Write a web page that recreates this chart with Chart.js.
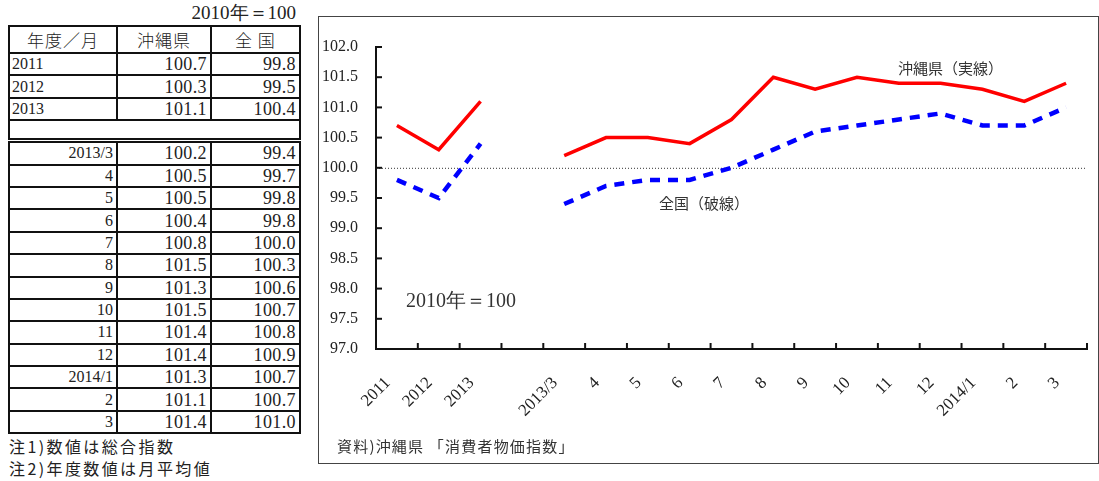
<!DOCTYPE html>
<html>
<head>
<meta charset="utf-8">
<script src="https://cdn.jsdelivr.net/npm/chart.js@4/dist/chart.umd.min.js"></script>
<style>
  body { margin: 0; background: #fff; width: 1099px; height: 481px; position: relative; overflow: hidden; }
  .serif { font-family: "Liberation Serif", "DejaVu Serif", serif; }
  .jp { font-family: "Noto Sans CJK JP", sans-serif; }
  #base { position: absolute; right: 803px; top: 0px; font-size: 19px; color: #222; }
  table { position: absolute; left: 8px; top: 25px; width: 293px; border-collapse: collapse; border: 2px solid #111; }
  td { border: 2px solid #111; padding: 0 3px; height: 20.4px; line-height: 20px; font-family: "Liberation Serif", serif; font-size: 18px; letter-spacing: 0.4px; color: #222; text-align: right; }
  td.l { text-align: left; font-size: 16px; padding-left: 2px; letter-spacing: 0; }
  td.m { font-size: 16px; letter-spacing: 0; }
  tr.hd td { height: 25px; text-align: center; font-family: "Noto Sans CJK JP", sans-serif; font-size: 17px; font-weight: 300; letter-spacing: 1px; }
  tr.gap td { height: 17px; border-bottom: 5px double #111; }
  #notes { position: absolute; left: 9px; top: 435px; font-size: 16px; letter-spacing: 2.4px; line-height: 22px; color: #222; }
  #box { position: absolute; left: 318px; top: 16px; width: 779px; height: 446px; border: 1px solid #444; }
  #box canvas { position: absolute; left: 0; top: 0; }
  .note { position: absolute; color: #333; white-space: nowrap; }
</style>
</head>
<body>
<div id="base" class="serif">2010年＝100</div>
<table id="tbl"></table>
<div id="notes" class="jp">注1)数値は総合指数<br>注2)年度数値は月平均値</div>
<div id="box">
  <canvas id="chart" width="779" height="446"></canvas>
  <div class="note jp" style="left:579px; top:40px; font-size:15px;">沖縄県（実線）</div>
  <div class="note jp" style="left:340px; top:175px; font-size:15px;">全国（破線）</div>
  <div class="note serif" style="left:87px; top:270px; font-size:20px;">2010年＝100</div>
  <div class="note jp" style="left:18px; top:418px; font-size:15px; letter-spacing:1.2px;">資料)沖縄県 「消費者物価指数」</div>
</div>
<script>
// 年度と月の区分（空欄は年度と月の間のすき間）
const categories = ['2011', '2012', '2013', '', '2013/3', '4', '5', '6', '7', '8', '9', '10', '11', '12', '2014/1', '2', '3'];
const okinawa = [100.7, 100.3, 101.1, null, 100.2, 100.5, 100.5, 100.4, 100.8, 101.5, 101.3, 101.5, 101.4, 101.4, 101.3, 101.1, 101.4];
const zenkoku = [99.8, 99.5, 100.4, null, 99.4, 99.7, 99.8, 99.8, 100.0, 100.3, 100.6, 100.7, 100.8, 100.9, 100.7, 100.7, 101.0];
const yTicks = [97.0, 97.5, 98.0, 98.5, 99.0, 99.5, 100.0, 100.5, 101.0, 101.5, 102.0];

// 表を作る
const tbl = document.getElementById('tbl');
let html = '<tr class="hd"><td style="width:100px">年度／月</td><td style="width:86px">沖縄県</td><td>全 国</td></tr>';
categories.forEach((c, i) => {
    if (c === '') {
        html += '<tr class="gap"><td colspan="3"></td></tr>';
        return;
    }
    const cls = i < 3 ? 'l' : 'm';
    html += `<tr><td class="${cls}">${c}</td><td>${okinawa[i].toFixed(1)}</td><td>${zenkoku[i].toFixed(1)}</td></tr>`;
});
tbl.innerHTML = html;

// 内向きの目盛りと100の点線
const extras = {
    id: 'extras',
    afterDraw(chart) {
        const ctx = chart.ctx;
        const a = chart.chartArea;
        const x = chart.scales.x, y = chart.scales.y;
        ctx.save();
        ctx.strokeStyle = '#111';
        ctx.lineWidth = 2;
        y.ticks.forEach((t, i) => {
            const py = y.getPixelForTick(i);
            ctx.beginPath(); ctx.moveTo(a.left, py); ctx.lineTo(a.left + 6, py); ctx.stroke();
        });
        const n = categories.length;
        for (let i = 0; i <= n; i++) {
            const px = a.left + (a.right - a.left) * i / n;
            ctx.beginPath(); ctx.moveTo(px, a.bottom); ctx.lineTo(px, a.bottom - 6); ctx.stroke();
        }
        ctx.restore();
    },
    beforeDatasetsDraw(chart) {
        const ctx = chart.ctx;
        const a = chart.chartArea;
        const py = chart.scales.y.getPixelForValue(100);
        ctx.save();
        ctx.strokeStyle = '#333';
        ctx.lineWidth = 1;
        ctx.setLineDash([1, 2]);
        ctx.beginPath(); ctx.moveTo(a.left, py + 0.5); ctx.lineTo(a.right, py + 0.5); ctx.stroke();
        ctx.restore();
    }
};

new Chart(document.getElementById('chart').getContext('2d'), {
    type: 'line',
    data: {
        labels: categories,
        datasets: [{
            label: '沖縄県',
            data: okinawa,
            borderColor: '#ff0000',
            borderWidth: 3.5,
            pointRadius: 0,
            tension: 0,
            spanGaps: false
        }, {
            label: '全国',
            data: zenkoku,
            borderColor: '#0000ff',
            borderWidth: 4.5,
            borderDash: [10, 8],
            borderCapStyle: 'butt',
            pointRadius: 0,
            tension: 0,
            spanGaps: false
        }]
    },
    options: {
        responsive: false,
        animation: false,
        layout: { padding: { top: 30, right: 11, left: 0, bottom: 0 } },
        plugins: { legend: { display: false }, tooltip: { enabled: false } },
        scales: {
            x: {
                offset: true,
                grid: { display: false },
                border: { display: true, color: '#111', width: 2 },
                ticks: {
                    autoSkip: false,
                    minRotation: 45,
                    maxRotation: 45,
                    padding: 16,
                    labelOffset: -9,
                    color: '#222',
                    font: { family: '"Liberation Serif", serif', size: 17 }
                },
                afterFit(scale) { scale.height = 114; }
            },
            y: {
                min: 97,
                max: 102,
                afterBuildTicks(scale) { scale.ticks = yTicks.map(v => ({ value: v })); },
                grid: { display: false },
                border: { display: true, color: '#111', width: 2 },
                ticks: {
                    padding: 10,
                    color: '#222',
                    font: { family: '"Liberation Serif", serif', size: 16 },
                    callback: v => Number(v).toFixed(1)
                },
                afterFit(scale) { scale.width = 57; }
            }
        }
    },
    plugins: [extras]
});
</script>
</body>
</html>
